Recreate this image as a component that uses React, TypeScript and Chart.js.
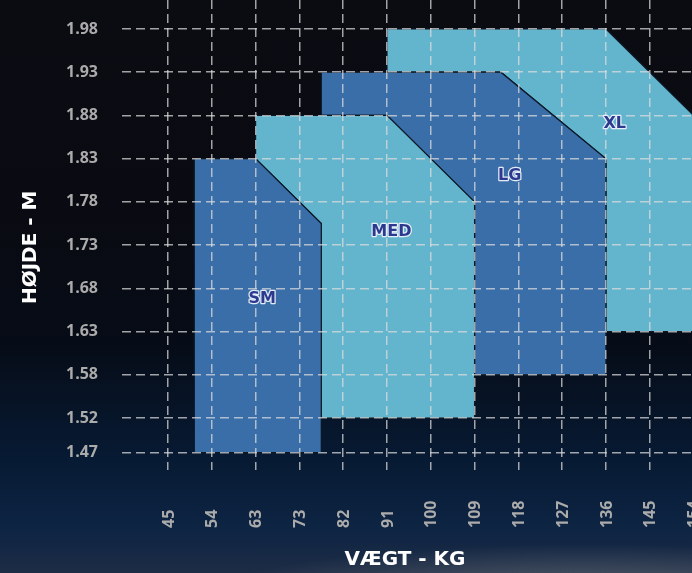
import React, { useEffect, useRef } from 'react';
import { Chart, registerables } from 'chart.js';

Chart.register(...registerables);

// Axis ticks (internal units: pounds / inches), shown as kg / m
const weightTicksLb = [100, 120, 140, 160, 180, 200, 220, 240, 260, 280, 300, 320, 340];
const weightLabelsKg = ['45', '54', '63', '73', '82', '91', '100', '109', '118', '127', '136', '145', '154'];
const heightTicksIn = [58.4, 60, 62, 64, 66, 68, 70, 72, 74, 76, 78];
const heightLabelsM = ['1.47', '1.52', '1.58', '1.63', '1.68', '1.73', '1.78', '1.83', '1.88', '1.93', '1.98'];

// Size regions (polygon outlines)
const sizeNames = ['SM', 'MED', 'LG', 'XL'];
const smWeight = [112, 140, 170, 170, 112, 112];
const smHeight = [72, 72, 69, 58.4, 58.4, 72];
const medWeight = [140, 200, 240, 240, 170, 170, 140, 140];
const medHeight = [74, 74, 70, 60, 60, 69, 72, 74];
const lgWeight = [170, 252, 300, 300, 240, 240, 200, 170, 170];
const lgHeight = [76, 76, 72, 62, 62, 70, 74, 74, 76];
const xlWeight = [200, 300, 372, 372, 300, 300, 252, 200, 200];
const xlHeight = [78, 78, 70.8, 64, 64, 72, 76, 76, 78];

const sizeColors = ['#3a6ea8', '#63b4cd', '#3a6ea8', '#63b4cd'];
const labelWeight = [143, 202, 256, 304];
const labelHeight = [65.5, 68.6, 71.2, 73.6];

const xTitle = 'VÆGT - KG';
const yTitle = 'HØJDE - M';

function toPoints(xs: number[], ys: number[]) {
  return xs.map((x, i) => ({ x, y: ys[i] }));
}

const polygonFill = {
  id: 'polygonFill',
  beforeDatasetDraw(chart: any, args: any) {
    const { ctx, chartArea } = chart;
    const ds: any = chart.data.datasets[args.index];
    const pts = args.meta.data;
    if (!pts.length) return;
    ctx.save();
    ctx.beginPath();
    ctx.rect(chartArea.left, chartArea.top, chartArea.right - chartArea.left, chartArea.bottom - chartArea.top);
    ctx.clip();
    ctx.beginPath();
    pts.forEach((p: any, i: number) => (i ? ctx.lineTo(p.x, p.y) : ctx.moveTo(p.x, p.y)));
    ctx.closePath();
    ctx.fillStyle = ds.fillColor;
    ctx.fill();
    ctx.restore();
  },
};

const textLayer = {
  id: 'textLayer',
  afterDraw(chart: any) {
    const { ctx } = chart;
    const xs = chart.scales.x;
    const ys = chart.scales.y;
    ctx.save();
    // size names
    ctx.font = "bold 16px 'DejaVu Sans', sans-serif";
    ctx.textAlign = 'center';
    ctx.textBaseline = 'middle';
    ctx.lineJoin = 'round';
    sizeNames.forEach((name, i) => {
      const px = xs.getPixelForValue(labelWeight[i]);
      const py = ys.getPixelForValue(labelHeight[i]);
      ctx.strokeStyle = 'rgba(235,240,250,0.95)';
      ctx.lineWidth = 2.5;
      ctx.strokeText(name, px, py);
      ctx.fillStyle = '#2b3a8e';
      ctx.fillText(name, px, py);
    });
    // x tick labels (rotated, start-aligned at bottom)
    ctx.font = "bold 16px 'Open Sans', sans-serif";
    ctx.fillStyle = '#ababab';
    ctx.textAlign = 'left';
    ctx.textBaseline = 'middle';
    weightTicksLb.forEach((v, i) => {
      const px = xs.getPixelForValue(v);
      ctx.save();
      ctx.translate(px + 1, xs.top + 58);
      ctx.rotate(-Math.PI / 2);
      ctx.fillText(weightLabelsKg[i], 0, 0);
      ctx.restore();
    });
    // axis titles
    ctx.fillStyle = '#ffffff';
    ctx.font = "bold 20px 'DejaVu Sans', sans-serif";
    ctx.textAlign = 'center';
    ctx.textBaseline = 'middle';
    ctx.fillText(xTitle, 405, xs.top + 90);
    ctx.save();
    ctx.translate(31, ys.getPixelForValue(67.9));
    ctx.rotate(-Math.PI / 2);
    ctx.fillText(yTitle, 0, 0);
    ctx.restore();
    ctx.restore();
  },
};

export default function App() {
  const ref = useRef<HTMLCanvasElement>(null);
  useEffect(() => {
    if (!ref.current) return;
    const polys = [
      [smWeight, smHeight],
      [medWeight, medHeight],
      [lgWeight, lgHeight],
      [xlWeight, xlHeight],
    ];
    const gridColor = 'rgba(222,222,222,0.72)';
    const chart = new Chart(ref.current, {
      type: 'scatter',
      data: {
        datasets: polys.map(([w, h], i) => ({
          label: sizeNames[i],
          data: toPoints(w, h),
          showLine: true,
          fill: false,
          borderColor: '#0c1826',
          borderWidth: 1.2,
          pointRadius: 0,
          pointHoverRadius: 0,
          tension: 0,
          fillColor: sizeColors[i],
        })) as any,
      },
      options: {
        animation: false,
        responsive: false,
        events: [],
        layout: { padding: { top: 10, right: 10, left: 0, bottom: 0 } },
        plugins: { legend: { display: false }, tooltip: { enabled: false } },
        scales: {
          x: {
            type: 'linear',
            min: 79,
            max: 347.5,
            afterBuildTicks: (s: any) => {
              s.ticks = weightTicksLb.map((v) => ({ value: v }));
            },
            afterFit: (s: any) => {
              s.height = 103;
              s.paddingLeft = 0;
              s.paddingRight = 0;
            },
            ticks: { display: false },
            grid: { color: gridColor, lineWidth: 1.5, drawTicks: false, z: 1 },
            border: { display: false, dash: [9, 5] },
          },
          y: {
            type: 'linear',
            min: 57.6,
            max: 79.34,
            afterBuildTicks: (s: any) => {
              s.ticks = heightTicksIn.map((v) => ({ value: v }));
            },
            afterFit: (s: any) => {
              s.width = 122;
              s.paddingTop = 0;
              s.paddingBottom = 0;
            },
            ticks: {
              autoSkip: false,
              padding: 24,
              color: '#ababab',
              font: { family: "'Open Sans', sans-serif", weight: 'bold', size: 16 },
              callback: (_v: any, i: number) => heightLabelsM[i],
            },
            grid: { color: gridColor, lineWidth: 1.5, drawTicks: false, z: 1 },
            border: { display: false, dash: [9, 5] },
          },
        },
      } as any,
      plugins: [polygonFill, textLayer],
    });
    return () => chart.destroy();
  }, []);

  return (
    <div
      style={{
        position: 'fixed',
        left: 0,
        top: 0,
        width: 692,
        height: 573,
        overflow: 'hidden',
        background:
          'radial-gradient(ellipse 55% 9% at 85% 104%, rgba(120,124,130,0.65), rgba(120,124,130,0) 100%), linear-gradient(to bottom, #0b0b12 0%, #0a0b12 38%, #060c17 60%, #071a33 80%, #0d2443 92%, #1d2c45 100%)',
      }}
    >
      <canvas ref={ref} width={720} height={583} style={{ position: 'absolute', left: 0, top: -10 }} />
    </div>
  );
}
